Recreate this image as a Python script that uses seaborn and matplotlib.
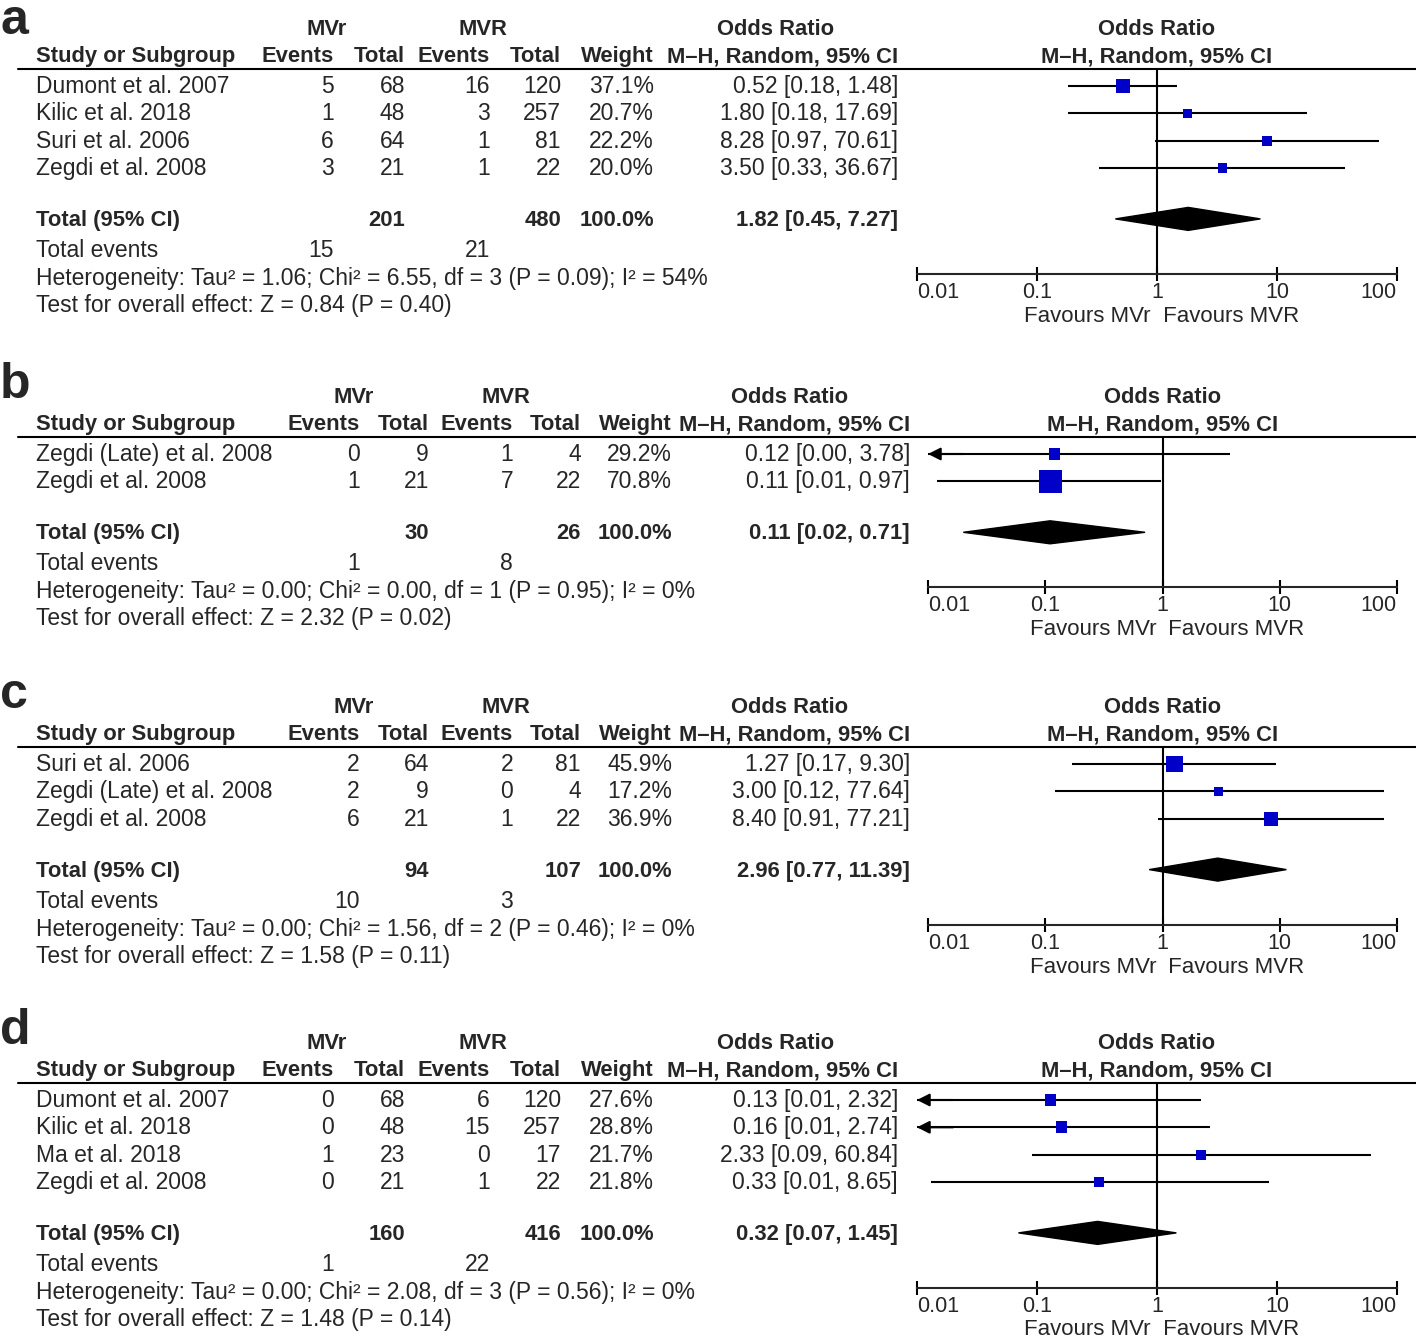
import matplotlib
matplotlib.use("Agg")
import matplotlib.pyplot as plt
import seaborn as sns

W, H = 1416, 1338

# -------------------- Data --------------------
# panel a
a_studies = ["Dumont et al. 2007", "Kilic et al. 2018", "Suri et al. 2006", "Zegdi et al. 2008"]
a_ev1 = [5, 1, 6, 3]
a_tot1 = [68, 48, 64, 21]
a_ev2 = [16, 3, 1, 1]
a_tot2 = [120, 257, 81, 22]
a_weight = [37.1, 20.7, 22.2, 20.0]
a_or = [0.52, 1.80, 8.28, 3.50]
a_lo = [0.18, 0.18, 0.97, 0.33]
a_hi = [1.48, 17.69, 70.61, 36.67]
a_totals = [201, 480]
a_sum = [1.82, 0.45, 7.27]
a_events = [15, 21]
a_het = "Heterogeneity: Tau² = 1.06; Chi² = 6.55, df = 3 (P = 0.09); I² = 54%"
a_test = "Test for overall effect: Z = 0.84 (P = 0.40)"

# panel b
b_studies = ["Zegdi (Late) et al. 2008", "Zegdi et al. 2008"]
b_ev1 = [0, 1]
b_tot1 = [9, 21]
b_ev2 = [1, 7]
b_tot2 = [4, 22]
b_weight = [29.2, 70.8]
b_or = [0.12, 0.11]
b_lo = [0.004, 0.012]
b_hi = [3.78, 0.97]
b_totals = [30, 26]
b_sum = [0.11, 0.02, 0.71]
b_events = [1, 8]
b_het = "Heterogeneity: Tau² = 0.00; Chi² = 0.00, df = 1 (P = 0.95); I² = 0%"
b_test = "Test for overall effect: Z = 2.32 (P = 0.02)"

# panel c
c_studies = ["Suri et al. 2006", "Zegdi (Late) et al. 2008", "Zegdi et al. 2008"]
c_ev1 = [2, 2, 6]
c_tot1 = [64, 9, 21]
c_ev2 = [2, 0, 1]
c_tot2 = [81, 4, 22]
c_weight = [45.9, 17.2, 36.9]
c_or = [1.27, 3.00, 8.40]
c_lo = [0.17, 0.12, 0.91]
c_hi = [9.30, 77.64, 77.21]
c_totals = [94, 107]
c_sum = [2.96, 0.77, 11.39]
c_events = [10, 3]
c_het = "Heterogeneity: Tau² = 0.00; Chi² = 1.56, df = 2 (P = 0.46); I² = 0%"
c_test = "Test for overall effect: Z = 1.58 (P = 0.11)"

# panel d
d_studies = ["Dumont et al. 2007", "Kilic et al. 2018", "Ma et al. 2018", "Zegdi et al. 2008"]
d_ev1 = [0, 0, 1, 0]
d_tot1 = [68, 48, 23, 21]
d_ev2 = [6, 15, 0, 1]
d_tot2 = [120, 257, 17, 22]
d_weight = [27.6, 28.8, 21.7, 21.8]
d_or = [0.13, 0.16, 2.33, 0.33]
d_lo = [0.007, 0.008, 0.09, 0.013]
d_hi = [2.32, 2.74, 60.84, 8.65]
d_totals = [160, 416]
d_sum = [0.32, 0.07, 1.45]
d_events = [1, 22]
d_het = "Heterogeneity: Tau² = 0.00; Chi² = 2.08, df = 3 (P = 0.56); I² = 0%"
d_test = "Test for overall effect: Z = 1.48 (P = 0.14)"

tick_vals = [0.01, 0.1, 1, 10, 100]
tick_labels = ["0.01", "0.1", "1", "10", "100"]

# -------------------- Style --------------------
sns.set_style("white")
plt.rcParams["font.family"] = ["Liberation Sans", "DejaVu Sans"]
FS = 16.5
FSB = 15.8
FST = 15.5
BLUE = "#0000C8"
LW = 1.5

fig = plt.figure(figsize=(W / 100, H / 100), dpi=100)
bg = fig.add_axes([0, 0, 1, 1])
bg.set_xlim(0, W)
bg.set_ylim(H, 0)
bg.axis("off")


def txt(x, y, s, ha="left", bold=False):
    bg.text(x, y + 7, s, ha=ha, va="baseline", fontsize=FSB if bold else FS,
            fontweight="bold" if bold else "normal")


def ci(o, l, h):
    return f"{o:.2f} [{l:.2f}, {h:.2f}]"


def draw_panel(letter, top, cols, grp, or_head, fx, studies, ev1, tot1, ev2, tot2,
               weight, ors, lo, hi, totals, summ, events, het, test):
    h2 = top + 27
    rule = top + 41
    rows = [rule + 17 + 27.3 * i for i in range(len(studies))]
    ytot = rows[-1] + 51
    yte = ytot + 31
    yhet = yte + 28
    ytest = yhet + 27
    yaxis = yhet - 4
    fmid = (fx[0] + fx[1]) / 2

    bg.text(0, max(top + 2, 34), letter, ha="left", va="baseline", fontsize=36, fontweight="bold")

    # header
    txt(grp[0], top, "MVr", ha="center", bold=True)
    txt(grp[1], top, "MVR", ha="center", bold=True)
    txt(or_head, top, "Odds Ratio", ha="center", bold=True)
    txt(fmid, top, "Odds Ratio", ha="center", bold=True)
    txt(36, h2, "Study or Subgroup", bold=True)
    for c, s in zip(cols, ["Events", "Total", "Events", "Total", "Weight", "M–H, Random, 95% CI"]):
        txt(c, h2, s, ha="right", bold=True)
    txt(fmid, h2, "M–H, Random, 95% CI", ha="center", bold=True)
    bg.plot([18, W], [rule, rule], color="black", lw=LW)

    # study rows
    for i, y in enumerate(rows):
        txt(36, y, studies[i])
        vals = [ev1[i], tot1[i], ev2[i], tot2[i], f"{weight[i]:.1f}%", ci(ors[i], lo[i], hi[i])]
        for c, v in zip(cols, vals):
            txt(c, y, str(v), ha="right")

    # total rows
    txt(36, ytot, "Total (95% CI)", bold=True)
    txt(cols[1], ytot, str(totals[0]), ha="right", bold=True)
    txt(cols[3], ytot, str(totals[1]), ha="right", bold=True)
    txt(cols[4], ytot, "100.0%", ha="right", bold=True)
    txt(cols[5], ytot, ci(*summ), ha="right", bold=True)
    txt(36, yte, "Total events")
    txt(cols[0], yte, str(events[0]), ha="right")
    txt(cols[2], yte, str(events[1]), ha="right")
    txt(36, yhet, het)
    txt(36, ytest, test)

    # forest plot
    ax = fig.add_axes([fx[0] / W, 1 - yaxis / H, (fx[1] - fx[0]) / W, (yaxis - rule) / H])
    ax.patch.set_alpha(0)
    ax.set_xscale("log")
    ax.set_xlim(0.01, 100)
    ax.set_ylim(yaxis, rule)
    for sp in ["top", "right", "left"]:
        ax.spines[sp].set_visible(False)
    ax.spines["bottom"].set_linewidth(LW)
    ax.set_yticks([])
    ax.set_xticks(tick_vals)
    ax.set_xticklabels([])
    ax.minorticks_off()
    ax.tick_params(axis="x", bottom=True, direction="inout", length=10, width=LW, color="black")
    ax.axvline(1, color="black", lw=LW, zorder=1)

    for i, y in enumerate(rows):
        left = max(lo[i], 0.01)
        ax.hlines(y, left, min(hi[i], 100), color="black", lw=LW, zorder=2)
        if lo[i] < 0.01:
            ax.annotate("", xy=(0.01, y), xytext=(0.02, y),
                        arrowprops=dict(arrowstyle="-|>,head_length=0.75,head_width=0.38",
                                        color="black", lw=LW, shrinkA=0, shrinkB=0))
    sizes = {w: (0.72 * (4 + 0.27 * w)) ** 2 for w in weight}
    sns.scatterplot(x=ors, y=rows, size=weight, sizes=sizes, marker="s", color=BLUE,
                    edgecolor=BLUE, linewidth=0, legend=False, ax=ax, zorder=3, clip_on=False)
    o, l, h = summ
    ax.fill([l, o, h, o], [ytot, ytot - 11.5, ytot, ytot + 11.5], color="black", zorder=3)

    has = ["left", "center", "center", "center", "right"]
    for v, s, ha in zip(tick_vals, tick_labels, has):
        ax.text(v, yaxis + 24, s, ha=ha, va="baseline", fontsize=FST, clip_on=False)
    fy = min(yaxis + 48, H - 3)
    ax.text(1, fy, "Favours MVr ", ha="right", va="baseline", fontsize=FST + 0.5)
    ax.text(1, fy, " Favours MVR", ha="left", va="baseline", fontsize=FST + 0.5)
    ax.set_xlabel("")
    ax.set_ylabel("")


draw_panel("a", 28, [334, 405, 490, 561, 654, 898], [327, 483], 776, (917, 1397),
           a_studies, a_ev1, a_tot1, a_ev2, a_tot2, a_weight, a_or, a_lo, a_hi,
           a_totals, a_sum, a_events, a_het, a_test)
draw_panel("b", 396, [360, 429, 513, 581, 672, 910], [354, 506], 790, (928, 1397),
           b_studies, b_ev1, b_tot1, b_ev2, b_tot2, b_weight, b_or, b_lo, b_hi,
           b_totals, b_sum, b_events, b_het, b_test)
draw_panel("c", 706, [360, 429, 513, 581, 672, 910], [354, 506], 790, (928, 1397),
           c_studies, c_ev1, c_tot1, c_ev2, c_tot2, c_weight, c_or, c_lo, c_hi,
           c_totals, c_sum, c_events, c_het, c_test)
draw_panel("d", 1042, [334, 405, 490, 561, 654, 898], [327, 483], 776, (917, 1397),
           d_studies, d_ev1, d_tot1, d_ev2, d_tot2, d_weight, d_or, d_lo, d_hi,
           d_totals, d_sum, d_events, d_het, d_test)

fig.savefig("out.png", dpi=100)
plt.close(fig)
